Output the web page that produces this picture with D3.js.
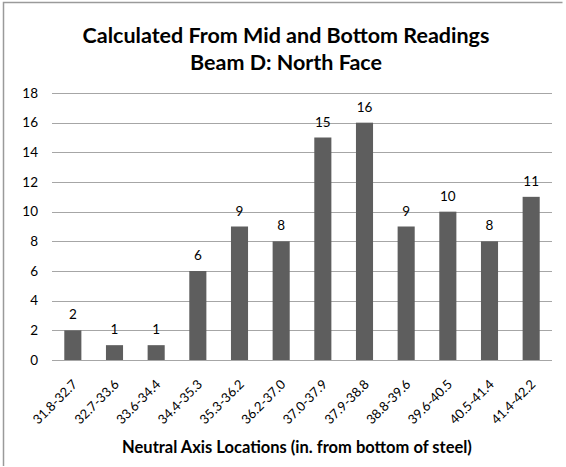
<!DOCTYPE html>
<html><head><meta charset="utf-8">
<script src="https://cdn.jsdelivr.net/npm/d3@7"></script>
<style>body{margin:0;background:#fff}text{font-family:Lato,"Open Sans",sans-serif}</style>
</head><body>
<svg id="c" width="566" height="467"></svg>
<script>
const categories = ["31.8-32.7","32.7-33.6","33.6-34.4","34.4-35.3","35.3-36.2","36.2-37.0","37.0-37.9","37.9-38.8","38.8-39.6","39.6-40.5","40.5-41.4","41.4-42.2"];
const counts = [2,1,1,6,9,8,15,16,9,10,8,11];
const yTicks = [0,2,4,6,8,10,12,14,16,18];
const titleLines = ["Calculated From Mid and Bottom Readings","Beam D: North Face"];
const xTitle = "Neutral Axis Locations (in. from bottom of steel)";

const svg = d3.select("#c");
svg.append("path").attr("d","M3.5,466V2.5H562.5").attr("fill","none")
  .attr("stroke","#9a9a9a").attr("stroke-width",1.5);

const L=52,R=552,T=93,B=360;
const x = d3.scaleBand().domain(categories).range([L,R]).paddingInner(0.59).paddingOuter(0.295);
const y = d3.scaleLinear().domain([0,18]).range([B,T]);

svg.append("g").selectAll("line").data(yTicks).join("line")
  .attr("x1",L).attr("x2",R).attr("y1",d=>Math.round(y(d))+0.5).attr("y2",d=>Math.round(y(d))+0.5)
  .attr("stroke","#a6a6a6").attr("stroke-width",1);

const yAxis = svg.append("g").attr("transform",`translate(${L},0)`)
  .call(d3.axisLeft(y).tickValues(yTicks).tickSize(0).tickPadding(14));
yAxis.select(".domain").remove();
yAxis.selectAll("text").attr("font-size",13.5).attr("fill","#000");

svg.append("g").selectAll("rect").data(counts).join("rect")
  .attr("x",(d,i)=>x(categories[i])).attr("width",x.bandwidth())
  .attr("y",d=>y(d)).attr("height",d=>B-y(d)).attr("fill","#5e5e5e");

svg.append("g").selectAll("text").data(counts).join("text")
  .attr("x",(d,i)=>x(categories[i])+x.bandwidth()/2).attr("y",d=>y(d)-11)
  .attr("text-anchor","middle").attr("font-size",13.5).attr("fill","#000").text(d=>d);

svg.append("line").attr("x1",L).attr("x2",R).attr("y1",B+0.5).attr("y2",B+0.5).attr("stroke","#a6a6a6");

const step = (R-L)/categories.length;
svg.append("g").selectAll("text").data(categories).join("text")
  .attr("transform",(d,i)=>`translate(${L+step*(i+0.5)+2},${B+22}) rotate(-45)`)
  .attr("text-anchor","end").attr("dy","0.35em").attr("font-size",13).attr("fill","#000").text(d=>d);

svg.append("g").selectAll("text").data(titleLines).join("text")
  .attr("x",286).attr("y",(d,i)=>43+i*27).attr("text-anchor","middle")
  .attr("font-size",21.5).attr("font-weight","bold").attr("fill","#000").text(d=>d);

svg.append("text").attr("x",297).attr("y",453).attr("text-anchor","middle")
  .attr("font-size",16.5).attr("font-weight","bold").attr("fill","#000").text(xTitle);
</script>
</body></html>
